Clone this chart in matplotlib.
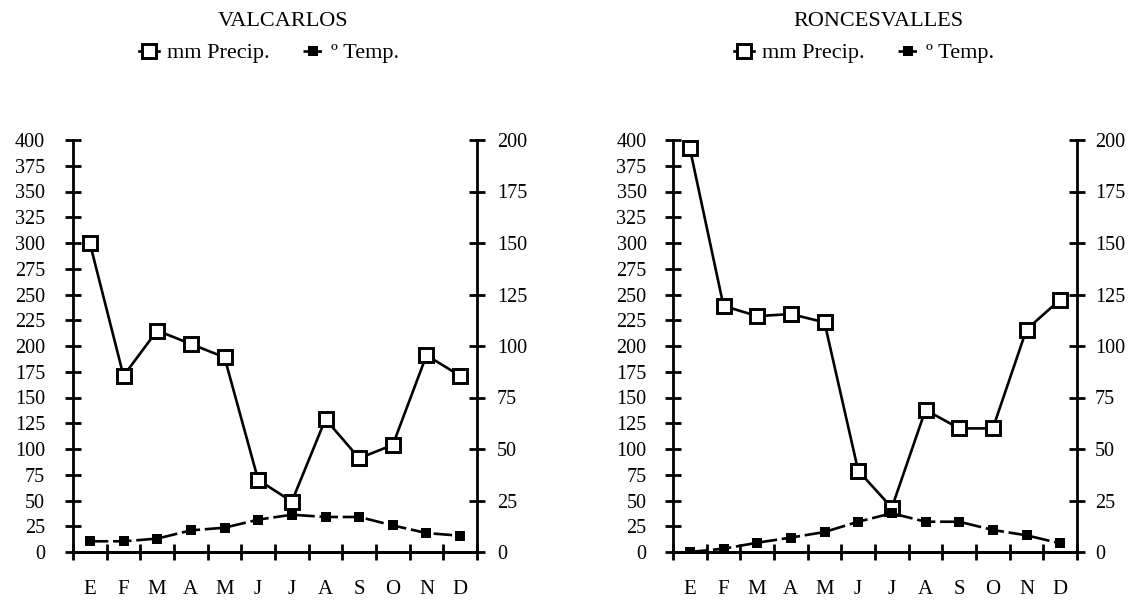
import numpy as np
import matplotlib
matplotlib.use("Agg")
import matplotlib.pyplot as plt

plt.rcParams['font.family'] = ['Liberation Serif', 'DejaVu Serif']

meses = ["E", "F", "M", "A", "M", "J", "J", "A", "S", "O", "N", "D"]

# VALCARLOS
prec_valcarlos = [300, 171, 215, 202, 189, 70, 49, 129, 91, 104, 191, 171]
temp_valcarlos = [5.2, 5.2, 6.5, 10.5, 11.8, 15.7, 18.1, 17.0, 17.0, 12.9, 9.2, 7.9]

# RONCESVALLES
prec_roncesvalles = [392, 239, 229, 231, 223, 79, 43, 138, 120, 120, 216, 245]
temp_roncesvalles = [0.0, 1.6, 4.5, 7.0, 9.7, 14.7, 18.8, 14.7, 14.7, 10.7, 8.1, 4.2]

W, H = 1135, 602
fig = plt.figure(figsize=(W / 100, H / 100), dpi=100)


def grafico(x0, titulo, prec, temp, tit_x, leg_x, pad_izq, pad_der):
    # axes en pixeles -> fraccion de figura
    ax = fig.add_axes([x0 / W, 1 - 552 / H, 404 / W, 412 / H])
    ax2 = ax.twinx()
    x = np.arange(len(meses))

    l1, = ax.plot(x, prec, color="black", lw=1.9, marker="s", ms=9.5,
                  mfc="white", mec="black", mew=2.1, label="mm Precip.", zorder=3)
    l2, = ax2.plot(x, temp, color="black", lw=1.9, marker="s", ms=7.5,
                   mfc="black", mec="black", mew=0, dashes=(7, 1.8),
                   label="º Temp.", zorder=3)

    ax.set_xlim(-0.5, 11.5)
    ax.set_ylim(0, 400)
    ax2.set_ylim(0, 200)
    ax.set_yticks(np.arange(0, 401, 25))
    ax2.set_yticks(np.arange(0, 201, 25))

    ax.set_xticks(np.arange(-0.5, 12, 1))
    ax.set_xticklabels([])
    ax.set_xticks(x, minor=True)
    ax.set_xticklabels(meses, minor=True)
    ax.tick_params(axis="x", which="major", direction="inout", length=12, width=2)
    ax.tick_params(axis="x", which="minor", length=0, pad=20, labelsize=15)
    ax.tick_params(axis="y", direction="inout", length=12, width=2,
                   pad=pad_izq, labelsize=14.5)
    ax2.tick_params(axis="y", direction="inout", length=12, width=2,
                    pad=pad_der, labelsize=14.5)

    for a in (ax, ax2):
        a.spines["top"].set_visible(False)
        for s in ("left", "right", "bottom"):
            a.spines[s].set_linewidth(2)
    ax.spines["right"].set_visible(False)
    ax2.spines["left"].set_visible(False)

    fig.text(tit_x / W, 1 - 22 / H, titulo, ha="center", va="center", fontsize=16)
    fig.legend(handles=[l1, l2], loc="center", bbox_to_anchor=(leg_x / W, 1 - 53 / H),
               ncol=2, frameon=False, fontsize=16, handlelength=0.9,
               handletextpad=0.35, columnspacing=1.5, borderpad=0)


grafico(73, "VALCARLOS", prec_valcarlos, temp_valcarlos, 283, 269, 14, 8.4)
grafico(673, "RONCESVALLES", prec_roncesvalles, temp_roncesvalles, 878, 864, 13, 7)

fig.savefig("out.png", dpi=100)
